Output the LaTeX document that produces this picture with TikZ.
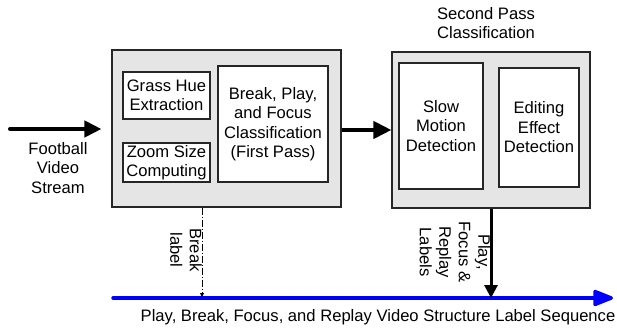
\documentclass[tikz,border=0pt]{standalone}
\usepackage{fontspec}
\setmainfont{Liberation Sans}
\usetikzlibrary{arrows.meta}

% gray stage boxes, white units inside them
\tikzset{
  stage/.style={draw=black!85, fill=black!10, line width=1.1pt, inner sep=0pt},
  unit/.style={draw=black!85, fill=white, line width=1.1pt, inner sep=0pt, align=center},
  txt/.style={align=center, inner sep=0pt},
  flow/.style={line width=4pt, -{Triangle[length=17pt,width=16pt]}},
}

\begin{document}
\begin{tikzpicture}[x=1pt, y=-1pt, font=\fontsize{16.6}{19.5}\selectfont]
  \useasboundingbox (0,0) rectangle (617,331);

  % first pass stage
  \node[stage, minimum width=229pt, minimum height=157pt] (first) at (226.5,128.5) {};
  \node[unit, minimum width=87pt, minimum height=47pt] (grass) at (166.5,95.5) {Grass Hue\\Extraction};
  \node[unit, minimum width=87pt, minimum height=39pt] (zoom) at (166.5,162.5) {Zoom Size\\Computing};
  \node[unit, minimum width=110pt, minimum height=116pt] (bpf) at (273,124) {Break, Play,\\and Focus\\Classification\\(First Pass)};

  % second pass stage
  \node[stage, minimum width=198pt, minimum height=156pt] (second) at (491,130) {};
  \node[unit, minimum width=84pt, minimum height=126pt] (slow) at (441,126) {Slow\\Motion\\Detection};
  \node[unit, minimum width=80pt, minimum height=119pt] (edit) at (539,127.5) {Editing\\Effect\\Detection};
  \node[txt] (sptitle) at (486,23) {Second Pass\\Classification};

  % input
  \coordinate (src) at (10,129);
  \node[txt] (video) at (58,168) {Football\\Video\\Stream};
  \draw[flow, line cap=round] (src) -- (src -| first.west) [shorten >=10pt];
  \draw[line width=4pt, -{Triangle[length=18pt,width=17pt]}] (first.east |- 0,130) -- (second.west |- 0,130);

  % label sequence
  \coordinate (seqa) at (113,298);
  \coordinate (seqb) at (613,298);
  \coordinate (brk) at (202,297);
  \coordinate (ply) at (491,298);
  \draw[blue, line width=3.5pt, line cap=round, -{Triangle[length=23pt,width=17pt,round=false]}] (seqa) -- (seqb);
  \node[txt] (seqlbl) at (378,317) {Play, Break, Focus, and Replay Video Structure Label Sequence};

  \draw[line width=1pt, dash pattern=on 7pt off 2pt on 1pt off 2pt, -{Triangle[length=4pt,width=4pt]}] (brk |- first.south) -- (brk);
  \node[txt, rotate=-90] (brklbl) at (186,250) {Break\\label};

  \draw[line width=3pt, -{Triangle[length=13pt,width=13pt]}] (ply |- second.south) -- (ply);
  \node[txt, rotate=-90] (plylbl) at (455,252) {Play,\\Focus \&\\Replay\\Labels};
\end{tikzpicture}
\end{document}
